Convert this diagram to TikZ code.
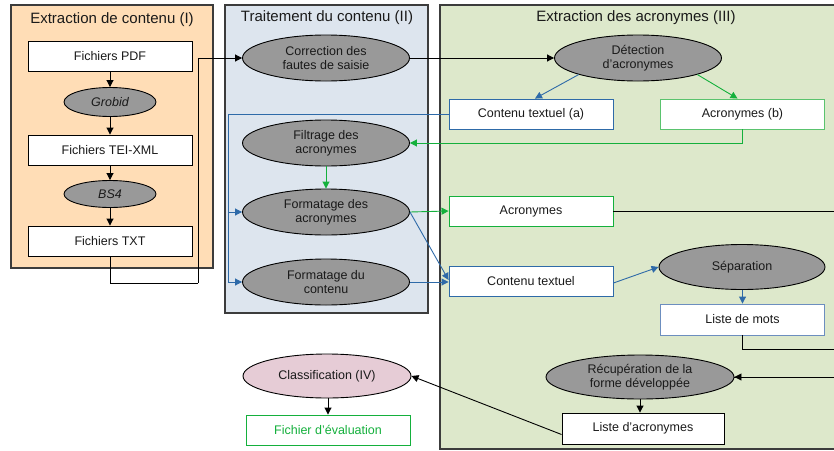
\documentclass[tikz,border=0pt]{standalone}
\usepackage{fontspec}
\setmainfont{Liberation Sans}
\usetikzlibrary{arrows.meta,shapes.geometric}
\definecolor{orangefill}{RGB}{255,221,182}
\definecolor{bluefill}{RGB}{221,229,238}
\definecolor{greenfill}{RGB}{221,232,203}
\definecolor{ellgray}{RGB}{153,153,153}
\definecolor{pinkfill}{RGB}{230,204,214}
\definecolor{bluec}{RGB}{46,106,168}
\definecolor{lightbluec}{RGB}{108,142,191}
\definecolor{greenc}{RGB}{20,176,60}
\definecolor{lightgreenc}{RGB}{90,195,110}
\definecolor{panelc}{RGB}{60,60,60}
\definecolor{txtc}{RGB}{26,26,26}
\begin{document}
\begin{tikzpicture}[x=1pt,y=-1pt,
  panel/.style={draw=panelc, line width=1.2pt},
  ptitle/.style={font=\fontsize{15}{17}\selectfont, text=txtc},
  box/.style={draw, fill=white, line width=0.9pt, minimum width=164pt, minimum height=30pt, inner sep=0pt, font=\fontsize{12.5}{14}\selectfont, text=txtc},
  ell/.style={ellipse, draw, fill=ellgray, line width=0.9pt, minimum width=167pt, minimum height=46pt, inner sep=0pt, align=center, font=\fontsize{12.5}{14}\selectfont, text=txtc},
  karr/.style={draw=black, line width=0.9pt, -{Triangle[length=7pt,width=7pt]}},
  barr/.style={draw=bluec, line width=0.9pt, -{Triangle[length=7pt,width=7pt]}},
  garr/.style={draw=greenc, line width=0.9pt, -{Triangle[length=7pt,width=7pt]}},
  lgarr/.style={draw=lightgreenc, line width=0.9pt, -{Triangle[length=7pt,width=7pt,fill=greenc]}, color=greenc},
  kline/.style={draw=black, line width=0.9pt}
]
\useasboundingbox (0,0) rectangle (834,450);
% panels
\draw[panel, fill=orangefill] (11,5) rectangle (213,268);
\draw[panel, fill=bluefill] (225,5) rectangle (428,313);
\draw[panel, fill=greenfill] (440,5) rectangle (845,449);
\node[ptitle] (t1) at (112,20) {Extraction de contenu (I)};
\node[ptitle] (t2) at (327,18) {Traitement du contenu (II)};
\node[ptitle] (t3) at (636,18) {Extraction des acronymes (III)};
% panel I
\node[box] (pdf) at (110,56) {Fichiers PDF};
\node[ell, minimum width=92pt, minimum height=29pt, font=\fontsize{12.5}{14}\selectfont\itshape] (grobid) at (110,102) {Grobid};
\node[box] (tei) at (110,150) {Fichiers TEI-XML};
\node[ell, minimum width=92pt, minimum height=27pt, font=\fontsize{12.5}{14}\selectfont\itshape] (bs4) at (110,194) {BS4};
\node[box] (txt) at (110,241) {Fichiers TXT};
% panel II
\node[ell] (corr) at (326,58) {Correction des\\fautes de saisie};
\node[ell] (filt) at (326,143) {Filtrage des\\acronymes};
\node[ell] (fa) at (326,212) {Formatage des\\acronymes};
\node[ell] (fc) at (326,282) {Formatage du\\contenu};
% panel III
\node[ell] (det) at (638,58) {Détection\\d'acronymes};
\node[box, draw=bluec] (ctA) at (531,114) {Contenu textuel (a)};
\node[box, draw=lightgreenc] (acrB) at (742.5,114) {Acronymes (b)};
\node[box, draw=greenc] (acr) at (531,211) {Acronymes};
\node[box, draw=bluec] (ct) at (531,281) {Contenu textuel};
\node[ell, minimum width=166pt, minimum height=45pt] (sep) at (742,267) {Séparation};
\node[box, draw=lightbluec, minimum height=31pt] (ldm) at (742.5,319.5) {Liste de mots};
\node[ell, minimum width=188pt, minimum height=44pt] (rec) at (640,377) {Récupération de la\\forme développée};
\node[box, minimum width=162pt, minimum height=31pt] (lacr) at (643,428.5) {Liste d'acronymes};
% classification
\node[ell, fill=pinkfill, minimum width=168pt, minimum height=44pt] (cls) at (327,376) {Classification (IV)};
\node[box, draw=greenc, text=greenc] (eval) at (328,430) {Fichier d'évaluation};
% coordinates
\coordinate (c1) at (198,283);
\coordinate (b1) at (228,114);
\coordinate (r1) at (840,211);
\coordinate (r3) at (840,349);
% connectors panel I
\draw[karr] (pdf) -- (grobid);
\draw[karr] (grobid) -- (tei);
\draw[karr] (tei) -- (bs4);
\draw[karr] (bs4) -- (txt);
\draw[kline] (txt.south) |- (c1);
\draw[karr] (c1) |- (corr.west);
\draw[karr] (corr) -- (det);
% panel III top
\draw[barr] (det.south west) -- ([xshift=4pt]ctA.north);
\draw[garr] (det.south east) -- ([xshift=-5pt]acrB.north);
\draw[barr] (ctA.west) -- (b1) |- (fa.west);
\draw[barr] (b1) |- (fc.west);
\draw[lgarr] (acrB.south) |- (filt.east);
\draw[garr] (filt) -- (fa);
\draw[garr] (fa.east) -- (acr.west);
\draw[barr] (fa.east) -- ([yshift=1pt]ct.west);
\draw[barr] (fc.east) -- (fc.east -| ct.west);
\draw[barr] ([yshift=-2pt]ct.east) -- (sep.west);
\draw[barr] (sep.south -| ldm.north) -- (ldm.north);
\draw[kline] (acr.east) -- (r1) |- (rec.east);
\draw[karr] (r1 |- rec.east) -- (rec.east);
\draw[kline] (ldm.south) |- (r3);
\draw[karr] (rec.south) -- (rec.south |- lacr.north);
\draw[karr] ([yshift=-6pt]lacr.west) -- (cls.east);
\draw[karr] (cls.south -| eval.north) -- (eval.north);
\end{tikzpicture}
\end{document}
